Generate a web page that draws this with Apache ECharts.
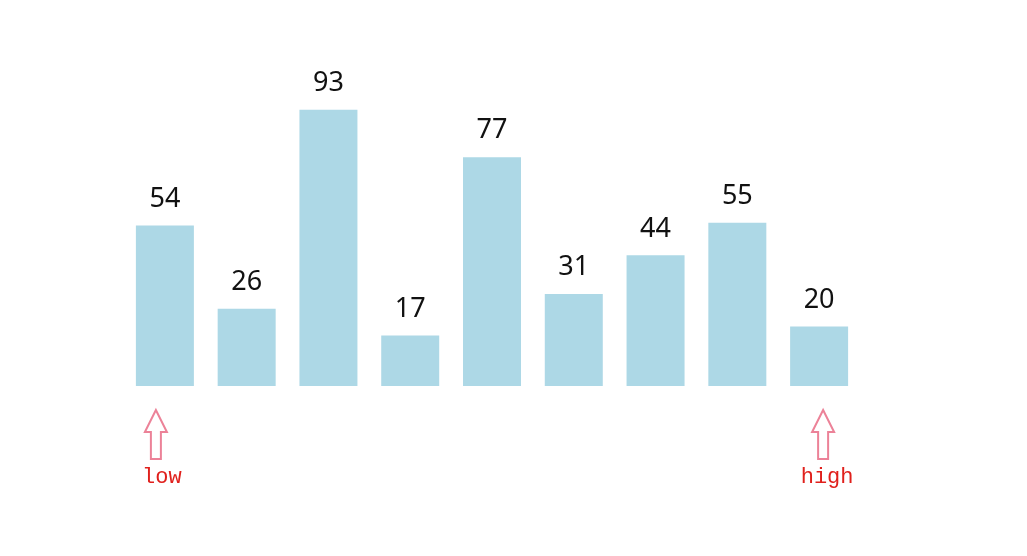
<!DOCTYPE html>
<html>
<head>
<meta charset="utf-8">
<script src="https://cdn.jsdelivr.net/npm/echarts@6/dist/echarts.min.js"></script>
<style>
html,body{margin:0;padding:0;background:#fff;}
#main{width:1027px;height:556px;}
</style>
</head>
<body>
<div id="main"></div>
<script>
var categories = ['a0','a1','a2','a3','a4','a5','a6','a7','a8'];
var values = [54, 26, 93, 17, 77, 31, 44, 55, 20];
var pointerIndex = [0, 8];
var pointerText = ['low', 'high'];

var chart = echarts.init(document.getElementById('main'), null, {renderer:'canvas'});
chart.setOption({
  backgroundColor: '#ffffff',
  animation: false,
  grid: {left: 124, width: 736, top: 89, bottom: 170},
  xAxis: {
    type: 'category', data: categories,
    axisLine: {show:false}, axisTick: {show:false}, axisLabel: {show:false}
  },
  yAxis: {
    type: 'value', min: 0, max: 100,
    axisLine: {show:false}, axisTick: {show:false}, axisLabel: {show:false},
    splitLine: {show:false}
  },
  series: [{
    type: 'bar',
    data: values,
    barWidth: 58,
    itemStyle: {color: '#add8e6'},
    label: {
      show: true, position: 'top', distance: 13,
      color: '#111', fontSize: 27,
      fontFamily: 'Noto Sans, sans-serif'
    }
  }]
});

var graphics = [];
pointerIndex.forEach(function (idx, k) {
  var p = chart.convertToPixel({gridIndex: 0}, [idx, 0]);
  var cx = p[0] + (k === 0 ? -9 : 4);
  var top = p[1] + 24;
  graphics.push({
    type: 'polygon',
    shape: {points: [[cx, top], [cx + 11, top + 22], [cx + 5, top + 22], [cx + 5, top + 49],
                     [cx - 5, top + 49], [cx - 5, top + 22], [cx - 11, top + 22]]},
    style: {fill: null, stroke: '#ec8298', lineWidth: 2}
  });
  graphics.push({
    type: 'text',
    x: cx + (k === 0 ? 6 : 4), y: top + 67,
    style: {
      text: pointerText[k], fill: '#e0201c',
      font: '22px "Liberation Mono", monospace',
      align: 'center', verticalAlign: 'middle'
    }
  });
});
chart.setOption({graphic: graphics});
</script>
</body>
</html>
